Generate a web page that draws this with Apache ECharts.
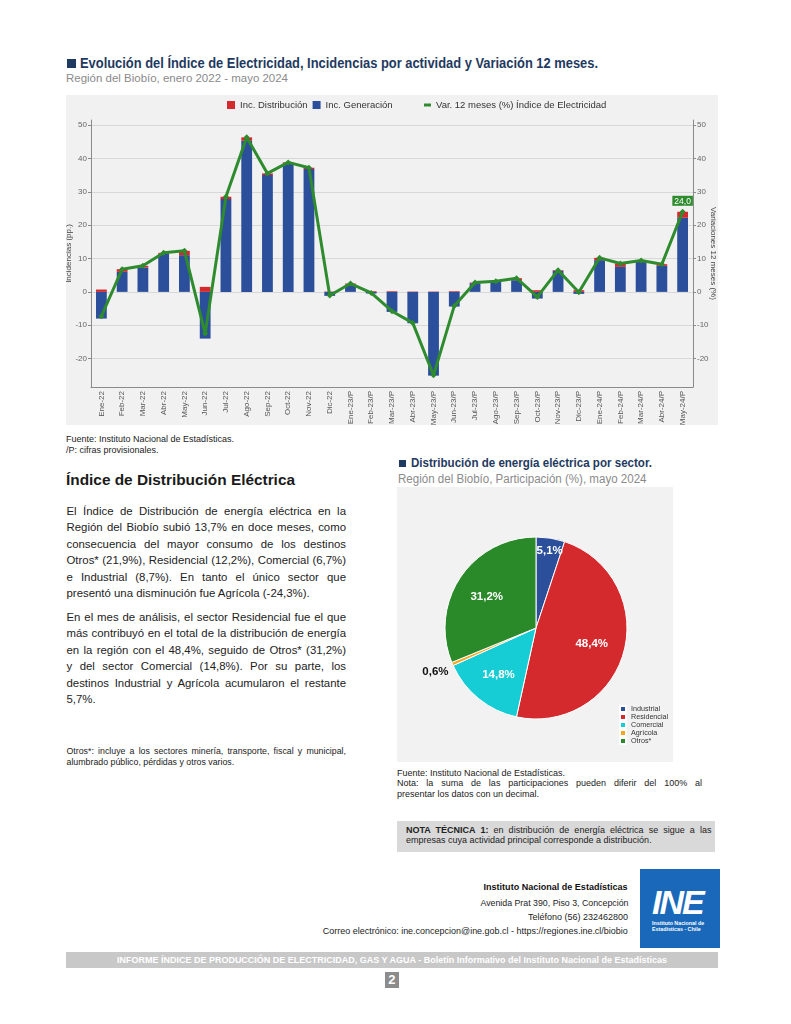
<!DOCTYPE html>
<html><head><meta charset="utf-8">
<script src="https://cdn.jsdelivr.net/npm/echarts/dist/echarts.min.js"></script>
<style>
html,body{margin:0;padding:0;background:#fff;}
body{width:791px;height:1024px;position:relative;overflow:hidden;font-family:'Liberation Sans',Arial,sans-serif;color:#222;}
.a{position:absolute;white-space:nowrap;}
.f{display:inline-block;transform-origin:left center;}
.fr{display:inline-block;transform-origin:right center;}
</style></head>
<body>
<!-- Top chart header -->
<div class="a" style="left:67px;top:59px;width:9px;height:9px;background:#1f3a60"></div>
<div class="a" style="left:80px;top:55px;line-height:17px;font-size:14px;font-weight:bold;color:#1f3a60"><span class="f" data-w="518">Evolución del Índice de Electricidad, Incidencias por actividad y Variación 12 meses.</span></div>
<div class="a" style="left:66px;top:71px;line-height:14px;font-size:11.5px;color:#8a8a8a"><span class="f" data-w="222">Región del Biobío, enero 2022 - mayo 2024</span></div>
<div id="bar" style="position:absolute;left:66px;top:95px;width:652px;height:330px;background:#f1f1f1"></div>
<div class="a" style="left:66px;top:434px;line-height:10.5px;font-size:9px;color:#222">Fuente: Instituto Nacional de Estadísticas.<br>/P: cifras provisionales.</div>

<!-- Left text -->
<div class="a" style="left:66px;top:470px;line-height:20px;font-size:15.4px;font-weight:bold;color:#1a1a1a"><span class="f" data-w="229">Índice de Distribución Eléctrica</span></div>
<div id="p1" style="position:absolute;left:66.5px;top:502.5px;width:279.5px;font-size:11.4px;line-height:16.55px;color:#222">
<div class="jl" data-w="279.5">El Índice de Distribución de energía eléctrica en la</div>
<div class="jl" data-w="279.5">Región del Biobío subió 13,7% en doce meses, como</div>
<div class="jl" data-w="279.5">consecuencia del mayor consumo de los destinos</div>
<div class="jl" data-w="279.5">Otros* (21,9%), Residencial (12,2%), Comercial (6,7%)</div>
<div class="jl" data-w="279.5">e Industrial (8,7%). En tanto el único sector que</div>
<div>presentó una disminución fue Agrícola (-24,3%).</div>
</div>
<div id="p2" style="position:absolute;left:66.5px;top:608.5px;width:279.5px;font-size:11.4px;line-height:16.6px;color:#222">
<div class="jl" data-w="279.5">En el mes de análisis, el sector Residencial fue el que</div>
<div class="jl" data-w="279.5">más contribuyó en el total de la distribución de energía</div>
<div class="jl" data-w="279.5">en la región con el 48,4%, seguido de Otros* (31,2%)</div>
<div class="jl" data-w="279.5">y del sector Comercial (14,8%). Por su parte, los</div>
<div class="jl" data-w="279.5">destinos Industrial y Agrícola acumularon el restante</div>
<div>5,7%.</div>
</div>
<div style="position:absolute;left:66.5px;top:745.5px;width:279.5px;font-size:8.8px;line-height:11.3px;color:#222">
<div class="jl" data-w="279.5">Otros*: incluye a los sectores minería, transporte, fiscal y municipal,</div>
<div>alumbrado público, pérdidas y otros varios.</div>
</div>

<!-- Pie header -->
<div class="a" style="left:399px;top:460px;width:7px;height:7px;background:#1f3a60"></div>
<div class="a" style="left:410.5px;top:455px;line-height:16px;font-size:12.5px;font-weight:bold;color:#1f3a60"><span class="f" data-w="241">Distribución de energía eléctrica por sector.</span></div>
<div class="a" style="left:398px;top:472px;line-height:15px;font-size:12px;color:#8a8a8a"><span class="f" data-w="248.5">Región del Biobío, Participación (%), mayo 2024</span></div>
<div id="pie" style="position:absolute;left:397px;top:486.5px;width:276px;height:275px;background:#f2f2f2"></div>
<div style="position:absolute;left:397px;top:767.5px;width:306px;font-size:9px;line-height:10.7px;color:#222">
<div>Fuente: Instituto Nacional de Estadísticas.</div>
<div class="jl" data-w="305">Nota: la suma de las participaciones pueden diferir del 100% al</div>
<div>presentar los datos con un decimal.</div>
</div>
<div style="position:absolute;left:397px;top:820.5px;width:318px;height:31px;background:#d9d9d9"></div>
<div style="position:absolute;left:406px;top:824.7px;width:305.5px;font-size:9px;line-height:10.7px;color:#222">
<div class="jl" data-w="305.5"><b>NOTA TÉCNICA 1:</b> en distribución de energía eléctrica se sigue a las</div>
<div>empresas cuya actividad principal corresponde a distribución.</div>
</div>

<!-- Footer -->
<div class="a" style="right:163px;top:881px;line-height:12px;font-size:9px;font-weight:bold;color:#111;text-align:right"><span class="fr" data-w="144">Instituto Nacional de Estadísticas</span></div>
<div class="a" style="right:163px;top:897px;line-height:12px;font-size:9px;color:#222;text-align:right"><span class="fr" data-w="148">Avenida Prat 390, Piso 3, Concepción</span></div>
<div class="a" style="right:163px;top:911px;line-height:12px;font-size:9px;color:#222;text-align:right"><span class="fr" data-w="100">Teléfono (56) 232462800</span></div>
<div class="a" style="right:163px;top:925px;line-height:12px;font-size:9px;color:#222;text-align:right"><span class="fr" data-w="305">Correo electrónico: ine.concepcion@ine.gob.cl - https://regiones.ine.cl/biobio</span></div>
<div style="position:absolute;left:640px;top:868.5px;width:79.5px;height:79.5px;background:#1a68b9;color:#fff">
<div class="a" style="left:12px;top:15px;font-size:34px;line-height:36px;font-weight:bold;font-style:italic;letter-spacing:-2px">INE</div>
<div class="a" style="left:12px;top:51px;font-size:5.3px;line-height:6.3px;font-weight:bold">Instituto Nacional de<br>Estadísticas - Chile</div>
</div>
<div style="position:absolute;left:66px;top:952px;width:652px;height:16px;background:#c8c8c8;text-align:center;line-height:16px;font-size:8.5px;font-weight:bold;color:#fff;white-space:nowrap"><span class="f" data-w="550" style="transform-origin:center center">INFORME ÍNDICE DE PRODUCCIÓN DE ELECTRICIDAD, GAS Y AGUA - Boletín Informativo del Instituto Nacional de Estadísticas</span></div>
<div style="position:absolute;left:385px;top:972px;width:13.5px;height:16px;background:#8c8c8c;color:#fff;font-weight:bold;font-size:13px;line-height:16px;text-align:center">2</div>

<script>
// ---------- DATA ----------
const categories = ['Ene-22','Feb-22','Mar-22','Abr-22','May-22','Jun-22','Jul-22','Ago-22','Sep-22','Oct-22','Nov-22','Dic-22',
  'Ene-23/P','Feb-23/P','Mar-23/P','Abr-23/P','May-23/P','Jun-23/P','Jul-23/P','Ago-23/P','Sep-23/P','Oct-23/P','Nov-23/P','Dic-23/P',
  'Ene-24/P','Feb-24/P','Mar-24/P','Abr-24/P','May-24/P'];
const incGeneracion = [-8.0, 6.0, 7.3, 11.4, 11.0, -14.0, 27.8, 45.3, 35.0, 38.6, 36.8, -1.2,
  2.2, -0.5, -6.0, -9.4, -25.1, -4.4, 2.6, 3.0, 3.5, -2.0, 6.3, -0.6,
  9.5, 7.5, 9.1, 7.8, 22.2];
const incDistribucion = [0.7, 0.8, 0.5, 0.3, 1.3, 1.5, 0.7, 1.0, 0.5, 0.2, 0.4, 0.1,
  0.3, 0.2, 0.2, 0.1, 0.1, 0.2, 0.2, 0.2, 0.6, 0.5, 0.2, 0.5,
  0.7, 1.0, 0.3, 0.5, 1.8];
const var12meses = [-7.3, 6.8, 7.8, 11.7, 12.3, -12.5, 28.5, 46.3, 35.5, 38.8, 37.2, -1.1,
  2.5, -0.3, -5.8, -9.3, -25.0, -4.2, 2.8, 3.2, 4.1, -1.5, 6.5, -0.1,
  10.2, 8.5, 9.4, 8.3, 24.0];
const sectors = ['Industrial','Residencial','Comercial','Agrícola','Otros*'];
const shares = [5.1, 48.4, 14.8, 0.6, 31.2];

// ---------- STYLE ----------
const FONT = "'Liberation Sans', Arial, sans-serif";
const BLUE = '#2b4f9a', RED = '#d42a2e', GREEN = '#2e8b2e';
const pieColors = [BLUE, RED, '#16cdd5', '#f5a623', '#2a8a2a'];
const pieLabelOffsets = [[6,-29],[9,3],[-7,9],[-56,25],[-9,-4]];

// ---------- TEXT FITTING ----------
document.querySelectorAll('.jl').forEach(el => {
  el.style.whiteSpace = 'nowrap';
  const target = parseFloat(el.dataset.w);
  const span = document.createElement('span');
  span.innerHTML = el.innerHTML; el.innerHTML = ''; el.appendChild(span);
  const nat = span.getBoundingClientRect().width;
  const spaces = (el.textContent.match(/ /g) || []).length;
  if (spaces) el.style.wordSpacing = ((target - nat) / spaces) + 'px';
});
document.querySelectorAll('.f,.fr').forEach(el => {
  const w = parseFloat(el.dataset.w);
  const nat = el.getBoundingClientRect().width;
  el.style.transform = 'scaleX(' + (w / nat) + ')';
});

// ---------- BAR CHART ----------
const bar = echarts.init(document.getElementById('bar'), null, {renderer: 'canvas'});
const lineName = 'Var. 12 meses (%) Índice de Electricidad';
const lineData = var12meses.map((v, i) => i === var12meses.length - 1
  ? {value: v, label: {show: true}} : v);
const yCommon = {
  type: 'value', min: -28.5, max: 51.5, splitNumber: 8,
  nameLocation: 'middle', nameMoveOverlap: false,
  nameTextStyle: {fontSize: 8, color: '#444', fontFamily: FONT},
  axisLine: {show: true, lineStyle: {color: '#8a8a8a'}},
  axisTick: {show: true, length: 3, lineStyle: {color: '#8a8a8a'}},
  axisLabel: {fontSize: 8, color: '#666', fontFamily: FONT, margin: 4, showMinLabel: false, showMaxLabel: false}
};
bar.setOption({
  animation: false,
  textStyle: {fontFamily: FONT},
  legend: [
    {data: ['Inc. Distribución', 'Inc. Generación'], left: 156, top: 0, icon: 'rect', itemWidth: 8, itemHeight: 8, itemGap: 5,
      textStyle: {fontSize: 9.5, color: '#333', fontFamily: FONT}},
    {data: [lineName], left: 353, top: 0, icon: 'rect', itemWidth: 7, itemHeight: 3,
      textStyle: {fontSize: 9.5, color: '#333', fontFamily: FONT}}
  ],
  grid: {left: 25, right: 25, top: 25, bottom: 38, containLabel: false, outerBoundsMode: 'none'},
  xAxis: {
    type: 'category', data: categories,
    axisLine: {onZero: false, lineStyle: {color: '#8a8a8a'}},
    axisTick: {alignWithLabel: true, length: 3, lineStyle: {color: '#8a8a8a'}},
    axisLabel: {rotate: 90, fontSize: 8, color: '#555', margin: 4, interval: 0, fontFamily: FONT}
  },
  yAxis: [
    Object.assign({}, yCommon, {position: 'left', name: 'Incidencias (pp.)', nameGap: 18, nameRotate: 90,
      splitLine: {show: true, showMinLine: false, showMaxLine: false, lineStyle: {color: '#d8d8d8'}}}),
    Object.assign({}, yCommon, {position: 'right', name: 'Variaciones 12 meses (%)', nameGap: 16, nameRotate: -90,
      splitLine: {show: false}})
  ],
  series: [
    {name: 'Inc. Generación', type: 'bar', stack: 'inc', data: incGeneracion, barWidth: '52%',
      itemStyle: {color: BLUE}},
    {name: 'Inc. Distribución', type: 'bar', stack: 'inc', data: incDistribucion,
      itemStyle: {color: RED}},
    {name: lineName, type: 'line', yAxisIndex: 1, data: lineData, z: 5,
      symbol: 'diamond', symbolSize: 6,
      lineStyle: {width: 3, color: GREEN}, itemStyle: {color: GREEN},
      label: {show: false, position: 'top', distance: 3, color: '#fff', backgroundColor: GREEN,
        padding: [1, 2, 0, 2], fontSize: 8.5, fontFamily: FONT,
        formatter: p => p.value.toFixed(1).replace('.', ',')}}
  ]
});

// ---------- PIE CHART ----------
const pie = echarts.init(document.getElementById('pie'), null, {renderer: 'canvas'});
pie.setOption({
  animation: false,
  color: pieColors,
  legend: {orient: 'vertical', left: 217, top: 213, icon: 'rect', itemWidth: 6, itemHeight: 6, itemGap: 0,
    data: sectors, textStyle: {fontSize: 7.2, lineHeight: 8, color: '#333', fontFamily: FONT}},
  series: [{
    type: 'pie', center: [139, 141], radius: 91, startAngle: 90, clockwise: true,
    itemStyle: {borderColor: '#fff', borderWidth: 1},
    labelLine: {show: false},
    label: {position: 'inside', fontWeight: 'bold', fontSize: 11.5, color: '#fff', fontFamily: FONT,
      formatter: p => p.value.toFixed(1).replace('.', ',') + '%'},
    data: sectors.map((n, i) => ({
      name: n, value: shares[i],
      label: Object.assign({offset: pieLabelOffsets[i]}, i === 3 ? {color: '#111'} : {})
    }))
  }]
});
</script>
</body></html>
